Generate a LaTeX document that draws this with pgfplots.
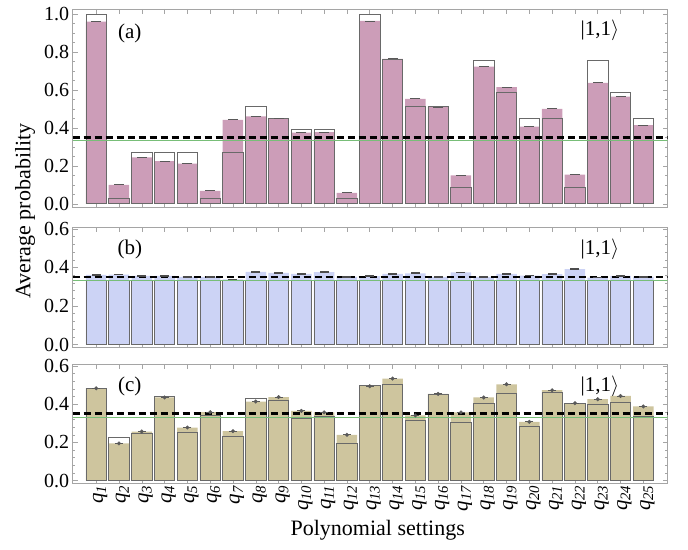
\documentclass[border=0pt]{standalone}
\usepackage{pgfplots}
\usepackage{pgfplotstable}
\pgfplotsset{compat=1.18}
\usepackage{fontspec}
\setmainfont{Liberation Serif}

\definecolor{pinkc}{RGB}{204,157,184}
\definecolor{bluec}{RGB}{204,211,245}
\definecolor{tanc}{RGB}{206,197,158}
\definecolor{greenl}{RGB}{120,190,120}
\definecolor{framec}{RGB}{165,165,165}
\definecolor{outl}{RGB}{105,105,105}

\pgfplotstableread{
x afill aopen bfill bopen cfill copen
1  0.960 1.000 0.362 0.3333 0.483 0.482
2  0.100 0.026 0.363 0.3333 0.195 0.228
3  0.244 0.270 0.357 0.3333 0.257 0.245
4  0.225 0.270 0.357 0.3333 0.435 0.442
5  0.212 0.270 0.351 0.3333 0.278 0.254
6  0.068 0.026 0.351 0.3333 0.358 0.343
7  0.442 0.270 0.338 0.3333 0.259 0.233
8  0.460 0.514 0.377 0.3333 0.414 0.431
9  0.449 0.451 0.372 0.3333 0.437 0.421
10 0.375 0.393 0.367 0.3333 0.365 0.327
11 0.377 0.393 0.376 0.3333 0.357 0.336
12 0.058 0.026 0.351 0.3333 0.240 0.195
13 0.963 1.000 0.355 0.3333 0.494 0.497
14 0.763 0.760 0.367 0.3333 0.534 0.504
15 0.553 0.512 0.370 0.3333 0.341 0.318
16 0.510 0.512 0.351 0.3333 0.454 0.449
17 0.149 0.086 0.374 0.3333 0.357 0.303
18 0.723 0.756 0.351 0.3333 0.435 0.402
19 0.614 0.588 0.367 0.3333 0.504 0.457
20 0.407 0.451 0.358 0.3333 0.308 0.283
21 0.500 0.451 0.365 0.3333 0.473 0.463
22 0.154 0.086 0.391 0.3333 0.405 0.405
23 0.637 0.756 0.348 0.3333 0.426 0.400
24 0.565 0.588 0.357 0.3333 0.443 0.412
25 0.414 0.451 0.351 0.3333 0.388 0.336
}\datatable

\pgfplotsset{
  panel/.style={
    scale only axis, width=595pt,
    xmin=-0.03, xmax=26.07,
    axis line style={framec, line width=0.6pt},
    tick style={framec, line width=0.5pt},
    tick align=inside,
    major tick length=5pt, minor tick length=2.5pt,
    xtick={1,...,25},
    xtick pos=both, ytick pos=both,
    xticklabels={},
    ticklabel style={font=\fontsize{20}{24}\selectfont},
    yticklabel style={/pgf/number format/.cd, fixed, fixed zerofill, precision=1, assume math mode=true},
    anchor=south west,
  },
  fillbar/.style={ybar, bar width=0.9, bar shift=0pt, draw=none, fill=#1},
  openbar/.style={ybar, bar width=0.9, bar shift=0pt, draw=outl, line width=0.7pt, fill=none},
  dashl/.style={black, line width=2.6pt, dash pattern=on 7pt off 4pt},
  greenline/.style={greenl, line width=0.7pt},
}

\begin{document}
\begin{tikzpicture}
\path[use as bounding box] (-72.7pt,-66pt) rectangle (615.3pt,483pt);

% panel (a)
\begin{axis}[panel, at={(0pt,276pt)}, height=198pt,
  ymin=-0.017, ymax=1.026, ytick={0,0.2,0.4,0.6,0.8,1}, minor y tick num=3]
\addplot[fillbar=pinkc] table[x=x, y=afill] {\datatable};
\addplot[openbar] table[x=x, y=aopen] {\datatable};
\addplot[only marks, mark=-, mark size=5pt, mark options={line width=0.9pt, draw=black!65}] table[x=x, y=afill] {\datatable};
\addplot[greenline] coordinates {(-0.03,0.3333) (26.07,0.3333)};
\addplot[dashl] coordinates {(-0.03,0.35) (26.07,0.35)};
\node[font=\fontsize{21}{24}\selectfont] at (rel axis cs:0.096,0.879) {(a)};
\node[font=\fontsize{21}{24}\selectfont] at (rel axis cs:0.886,0.89) {|1,1$\rangle$};
\end{axis}

% panel (b)
\begin{axis}[panel, at={(0pt,136pt)}, height=120pt,
  ymin=-0.0125, ymax=0.61, ytick={0,0.2,0.4,0.6}, minor y tick num=4]
\addplot[fillbar=bluec] table[x=x, y=bfill] {\datatable};
\addplot[openbar] table[x=x, y=bopen] {\datatable};
\addplot[only marks, mark=-, mark size=4.5pt, mark options={line width=1.6pt, draw=black!70}] table[x=x, y=bfill] {\datatable};
\addplot[greenline] coordinates {(-0.03,0.3333) (26.07,0.3333)};
\addplot[dashl] coordinates {(-0.03,0.35) (26.07,0.35)};
\node[font=\fontsize{21}{24}\selectfont] at (rel axis cs:0.096,0.817) {(b)};
\node[font=\fontsize{21}{24}\selectfont] at (rel axis cs:0.886,0.817) {|1,1$\rangle$};
\end{axis}

% panel (c)
\begin{axis}[panel, at={(0pt,0pt)}, height=119pt,
  ymin=-0.012, ymax=0.61, ytick={0,0.2,0.4,0.6}, minor y tick num=4,
  xticklabels={\textit{q}\textsubscript{\textit{1}},\textit{q}\textsubscript{\textit{2}},\textit{q}\textsubscript{\textit{3}},\textit{q}\textsubscript{\textit{4}},\textit{q}\textsubscript{\textit{5}},\textit{q}\textsubscript{\textit{6}},\textit{q}\textsubscript{\textit{7}},\textit{q}\textsubscript{\textit{8}},\textit{q}\textsubscript{\textit{9}},\textit{q}\textsubscript{\textit{10}},\textit{q}\textsubscript{\textit{11}},\textit{q}\textsubscript{\textit{12}},\textit{q}\textsubscript{\textit{13}},\textit{q}\textsubscript{\textit{14}},\textit{q}\textsubscript{\textit{15}},\textit{q}\textsubscript{\textit{16}},\textit{q}\textsubscript{\textit{17}},\textit{q}\textsubscript{\textit{18}},\textit{q}\textsubscript{\textit{19}},\textit{q}\textsubscript{\textit{20}},\textit{q}\textsubscript{\textit{21}},\textit{q}\textsubscript{\textit{22}},\textit{q}\textsubscript{\textit{23}},\textit{q}\textsubscript{\textit{24}},\textit{q}\textsubscript{\textit{25}}},
  xticklabel style={rotate=90, anchor=east, font=\fontsize{21}{24}\selectfont, inner sep=2pt, yshift=-4pt}]
\addplot[fillbar=tanc] table[x=x, y=cfill] {\datatable};
\addplot[openbar] table[x=x, y=copen] {\datatable};
\addplot[only marks, mark=-, mark size=4pt, mark options={line width=0.8pt, draw=black!65}] table[x=x, y=cfill] {\datatable};
\addplot[only marks, mark=*, mark size=1.8pt, mark options={draw=black!65, fill=black!65}] table[x=x, y=cfill] {\datatable};
\addplot[greenline] coordinates {(-0.03,0.3333) (26.07,0.3333)};
\addplot[dashl] coordinates {(-0.03,0.35) (26.07,0.35)};
\node[font=\fontsize{21}{24}\selectfont] at (rel axis cs:0.096,0.81) {(c)};
\node[font=\fontsize{21}{24}\selectfont] at (rel axis cs:0.886,0.81) {|1,1$\rangle$};
\end{axis}

\node[rotate=90, font=\fontsize{22}{26}\selectfont] at (-47.7pt,272pt) {Average probability};
\node[font=\fontsize{22}{26}\selectfont] at (305pt,-47pt) {Polynomial settings};
\end{tikzpicture}
\end{document}
